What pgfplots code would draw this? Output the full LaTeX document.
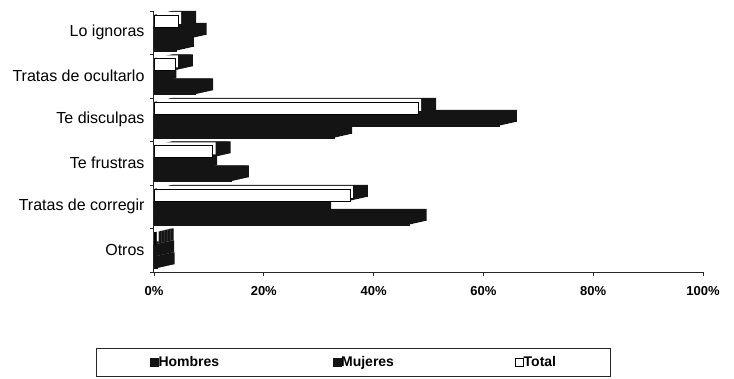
\documentclass[border=0pt]{standalone}
\usepackage{fontspec}
\setmainfont{Liberation Sans}
\usepackage{pgfplots}
\usepackage{pgfplotstable}
\pgfplotsset{compat=1.18}

\pgfplotstableread{
idx H M T
5 4.0 6.3 4.4
4 7.5 0.8 3.8
3 32.8 62.8 48.1
2 14.0 8.2 10.7
1 46.4 29.0 35.7
0 0.5 0.4 0.3
}\data

\begin{document}
\begin{tikzpicture}
\begin{axis}[
  name=ax,
  scale only axis, width=549pt, height=261pt,
  xbar, bar width=12pt,
  xmin=0, xmax=100, ymin=-0.5, ymax=5.5,
  axis lines*=left,
  axis line style={black!85, line width=1pt},
  tick align=outside,
  xtick={0,20,40,60,80,100},
  xticklabels={0\%,20\%,40\%,60\%,80\%,100\%},
  xticklabel style={font=\fontsize{13}{13}\selectfont\bfseries, yshift=-7pt},
  major tick length=4pt, minor tick length=4pt,
  ytick={0,...,5},
  yticklabels={Otros,Tratas de corregir,Te frustras,Te disculpas,Tratas de ocultarlo,Lo ignoras},
  yticklabel style={font=\fontsize{16}{16}\selectfont, xshift=-2pt},
  minor ytick={-0.5,0.5,...,5.5},
  tick style={black!85, line width=0.8pt},
  major y tick style={draw=none},
  clip=false,
  legend columns=3,
  legend style={at={(0.3625,-0.3467)}, anchor=center, draw=black!85, line width=0.8pt,
    inner xsep=54pt, inner ysep=8.5pt,
    font=\fontsize{14}{14}\selectfont\bfseries,
    /tikz/every even column/.append style={column sep=1pt},
    nodes={inner sep=0pt}},
  legend image code/.code={\draw[#1, line width=0.6pt] (0pt,-4pt) rectangle (8pt,4pt);},
]
% 3-D depth (side faces) drawn as shifted copies of the same bars
\pgfplotsinvokeforeach{0,...,12}{
  \addplot[forget plot, fill=black!92, draw=none, bar shift=12pt, xshift=#1*1.5pt, yshift=#1*0.333pt] table[x=T, y=idx]{\data};
  \addplot[forget plot, fill=black!92, draw=none, bar shift=0pt, xshift=#1*1.5pt, yshift=#1*0.333pt] table[x=M, y=idx]{\data};
  \addplot[forget plot, fill=black!92, draw=none, bar shift=-12pt, xshift=#1*1.5pt, yshift=#1*0.333pt] table[x=H, y=idx]{\data};
}
\addplot[forget plot, fill=white, draw=none, bar shift=12pt, xshift=3pt, yshift=3pt] table[x=T, y=idx]{\data};
% front faces
\addplot[fill=black!92, draw=black!92, bar shift=-12pt] table[x=H, y=idx]{\data};
\addlegendentry{\makebox[173pt][l]{Hombres}}
\addplot[fill=black!92, draw=black!92, bar shift=0pt] table[x=M, y=idx]{\data};
\addlegendentry{\makebox[173pt][l]{Mujeres}}
\addplot[fill=white, draw=black, line width=0.5pt, bar shift=12pt] table[x=T, y=idx]{\data};
\addlegendentry{Total}
\end{axis}
\pgfresetboundingbox
\path[use as bounding box] ([shift={(-154pt,-106pt)}]ax.south west) rectangle ([shift={(31pt,11pt)}]ax.north east);
\end{tikzpicture}
\end{document}
